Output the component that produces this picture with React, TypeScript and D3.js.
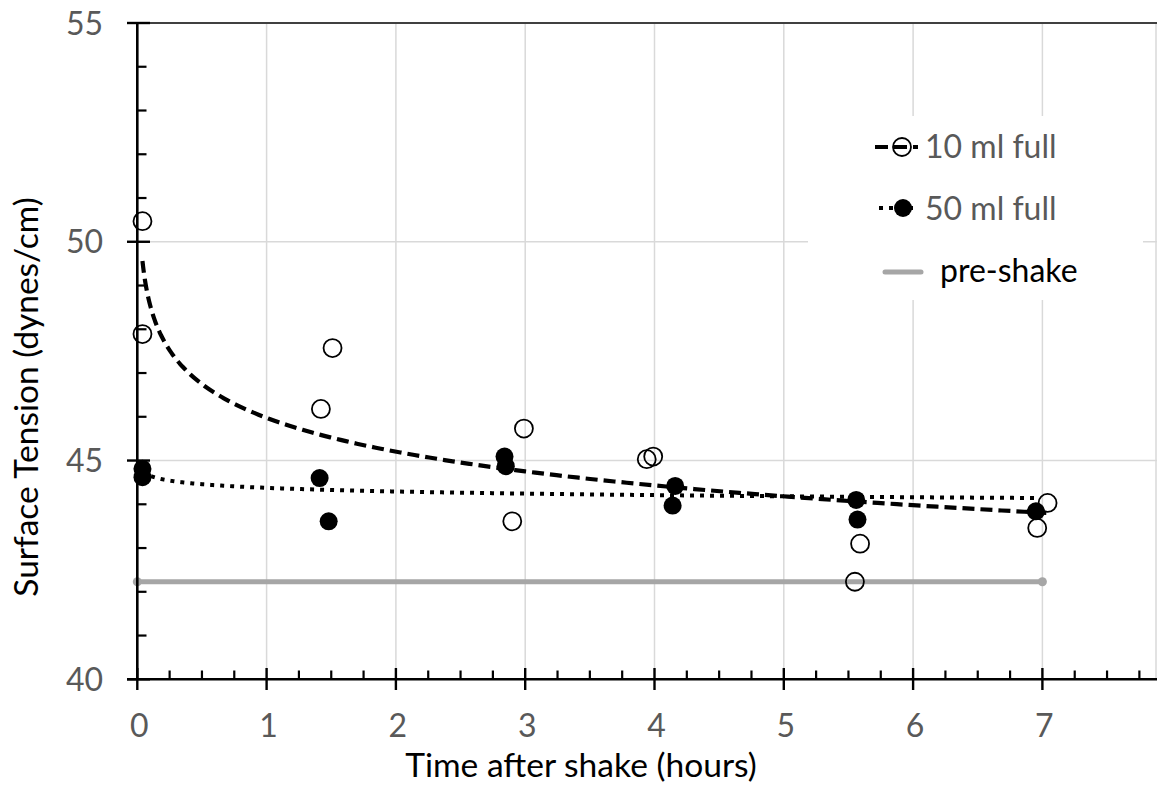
import React from "react";
import * as d3 from "d3";

// ---- data ----
const tenMlX = [0.04, 0.04, 1.42, 1.51, 2.99, 2.9, 3.94, 3.99, 5.59, 5.55, 7.04, 6.96];
const tenMlY = [50.47, 47.89, 46.18, 47.57, 45.73, 43.61, 45.03, 45.09, 43.1, 42.23, 44.03, 43.46];
const fiftyMlX = [0.04, 0.04, 1.41, 1.48, 2.84, 2.85, 4.16, 4.14, 5.56, 5.57, 6.95];
const fiftyMlY = [44.81, 44.62, 44.6, 43.61, 45.09, 44.87, 44.42, 43.97, 44.1, 43.65, 43.84];
const preShakeX = [0, 7];
const preShakeY = [42.23, 42.23];
const xTicks = [0, 1, 2, 3, 4, 5, 6, 7];
const yTicks = [40, 45, 50, 55];
const legendLabels = ["10 ml full", "50 ml full", "pre-shake"];
const xTitle = "Time after shake (hours)";
const yTitle = "Surface Tension (dynes/cm)";

// logarithmic least-squares trendline (as in a spreadsheet "log" trendline)
function logFit(xs: number[], ys: number[]) {
  const lx = xs.map((v) => Math.log(v));
  const mx = d3.mean(lx) as number;
  const my = d3.mean(ys) as number;
  let sxy = 0,
    sxx = 0;
  lx.forEach((v, i) => {
    sxy += (v - mx) * (ys[i] - my);
    sxx += (v - mx) * (v - mx);
  });
  const b = sxy / sxx;
  const a = my - b * mx;
  return (x: number) => a + b * Math.log(x);
}

const W = 1157;
const H = 797;
const FONT = "Lato, 'Open Sans', sans-serif";
const GRAY_TEXT = "#595959";

export default function App() {
  const x = d3.scaleLinear().domain([0, 7.9]).range([137.3, 137.3 + 7.9 * 129.3]);
  const y = d3.scaleLinear().domain([40, 55]).range([679.3, 23]);

  const minorX = d3.range(0, 7.9, 0.25).filter((v) => Math.abs(v - Math.round(v)) > 1e-6);
  const minorY = d3.range(41, 55, 1).filter((v) => v % 5 !== 0);

  const trendPts = (xs: number[], ys: number[]) => {
    const f = logFit(xs, ys);
    const lo = d3.min(xs) as number;
    const hi = d3.max(xs) as number;
    const n = 200;
    const pts: [number, number][] = [];
    for (let i = 0; i <= n; i++) {
      const t = lo * Math.pow(hi / lo, i / n);
      pts.push([t, f(t)]);
    }
    return pts;
  };
  const line = d3
    .line<[number, number]>()
    .x((d) => x(d[0]))
    .y((d) => y(d[1]));

  const tenTrend = line(trendPts(tenMlX, tenMlY)) || "";
  const fiftyTrend = line(trendPts(fiftyMlX, fiftyMlY)) || "";
  const prePath = line(preShakeX.map((v, i) => [v, preShakeY[i]] as [number, number])) || "";

  const x0 = x(0);
  const y0 = y(40);

  return (
    <svg
      width={W}
      height={H}
      style={{ position: "absolute", left: 0, top: 0, background: "#fff" }}
      fontFamily={FONT}
    >
      <rect x={0} y={0} width={W} height={H} fill="#fff" />
      {/* vertical gridlines */}
      {xTicks
        .filter((t) => t > 0)
        .map((t) => (
          <line key={"gx" + t} x1={x(t)} x2={x(t)} y1={y(55)} y2={y0} stroke="#d9d9d9" strokeWidth={1.5} />
        ))}
      <line x1={W - 1} x2={W - 1} y1={y(55)} y2={y0} stroke="#d9d9d9" strokeWidth={1.5} />
      {/* horizontal gridlines */}
      {yTicks
        .filter((t) => t > 40 && t < 55)
        .map((t) => (
          <line key={"gy" + t} x1={x0} x2={W} y1={y(t)} y2={y(t)} stroke="#d9d9d9" strokeWidth={1.5} />
        ))}
      <line x1={x0} x2={W} y1={y(55)} y2={y(55)} stroke="#404040" strokeWidth={2} />

      {/* pre-shake */}
      <path d={prePath} fill="none" stroke="#a6a6a6" strokeWidth={5} />
      {preShakeX.map((v, i) => (
        <circle key={"pe" + i} cx={x(v)} cy={y(preShakeY[i])} r={4.5} fill="#a6a6a6" />
      ))}

      {/* trendlines */}
      <path d={tenTrend} fill="none" stroke="#000" strokeWidth={4.2} strokeDasharray="12 6" />
      <path d={fiftyTrend} fill="none" stroke="#000" strokeWidth={4} strokeDasharray="4 6" />

      {/* points */}
      {fiftyMlX.map((v, i) => (
        <circle key={"f" + i} cx={x(v)} cy={y(fiftyMlY[i])} r={9} fill="#000" />
      ))}
      {tenMlX.map((v, i) => (
        <circle key={"t" + i} cx={x(v)} cy={y(tenMlY[i])} r={9} fill="none" stroke="#000" strokeWidth={1.8} />
      ))}

      {/* axes */}
      <line x1={x0} x2={x0} y1={y(55)} y2={y0} stroke="#000" strokeWidth={2.6} />
      <line x1={127} x2={W} y1={y0} y2={y0} stroke="#000" strokeWidth={2.6} />
      {yTicks.map((t) => (
        <line key={"ty" + t} x1={127} x2={150} y1={y(t)} y2={y(t)} stroke="#000" strokeWidth={2.4} />
      ))}
      {minorY.map((t) => (
        <line key={"my" + t} x1={x0} x2={146.5} y1={y(t)} y2={y(t)} stroke="#000" strokeWidth={2.2} />
      ))}
      {xTicks.map((t) => (
        <line key={"tx" + t} x1={x(t)} x2={x(t)} y1={668} y2={690} stroke="#000" strokeWidth={2.4} />
      ))}
      {minorX.map((t) => (
        <line key={"mx" + t} x1={x(t)} x2={x(t)} y1={670.5} y2={y0} stroke="#000" strokeWidth={2.2} />
      ))}

      {/* tick labels */}
      {yTicks.map((t) => (
        <text key={"ly" + t} x={103} y={y(t) + 11.5} textAnchor="end" fontSize={32} fill={GRAY_TEXT}>
          {t}
        </text>
      ))}
      {xTicks.map((t) => (
        <text key={"lx" + t} x={x(t) + 2} y={737} textAnchor="middle" fontSize={32} fill={GRAY_TEXT}>
          {t}
        </text>
      ))}

      {/* axis titles */}
      <text x={581} y={777} textAnchor="middle" fontSize={33.6} fill="#000">
        {xTitle}
      </text>
      <text
        transform={`translate(38, 397) rotate(-90)`}
        textAnchor="middle"
        fontSize={33.5}
        fill="#000"
      >
        {yTitle}
      </text>

      {/* legend */}
      <rect x={808} y={116} width={335} height={184} fill="#fff" />
      <line x1={875} x2={918} y1={147} y2={147} stroke="#000" strokeWidth={4.2} strokeDasharray="13 6" />
      <circle cx={902} cy={147} r={9} fill="none" stroke="#000" strokeWidth={1.8} />
      <text x={925} y={158} fontSize={32} fill={GRAY_TEXT}>
        {legendLabels[0]}
      </text>
      <line x1={879} x2={918} y1={208} y2={208} stroke="#000" strokeWidth={4} strokeDasharray="4 6" />
      <circle cx={903} cy={208} r={9} fill="#000" />
      <text x={925} y={220} fontSize={32} fill={GRAY_TEXT}>
        {legendLabels[1]}
      </text>
      <line x1={885} x2={921} y1={272} y2={272} stroke="#a6a6a6" strokeWidth={5} strokeLinecap="round" />
      <text x={940} y={282} fontSize={32} fill="#000">
        {legendLabels[2]}
      </text>
    </svg>
  );
}
